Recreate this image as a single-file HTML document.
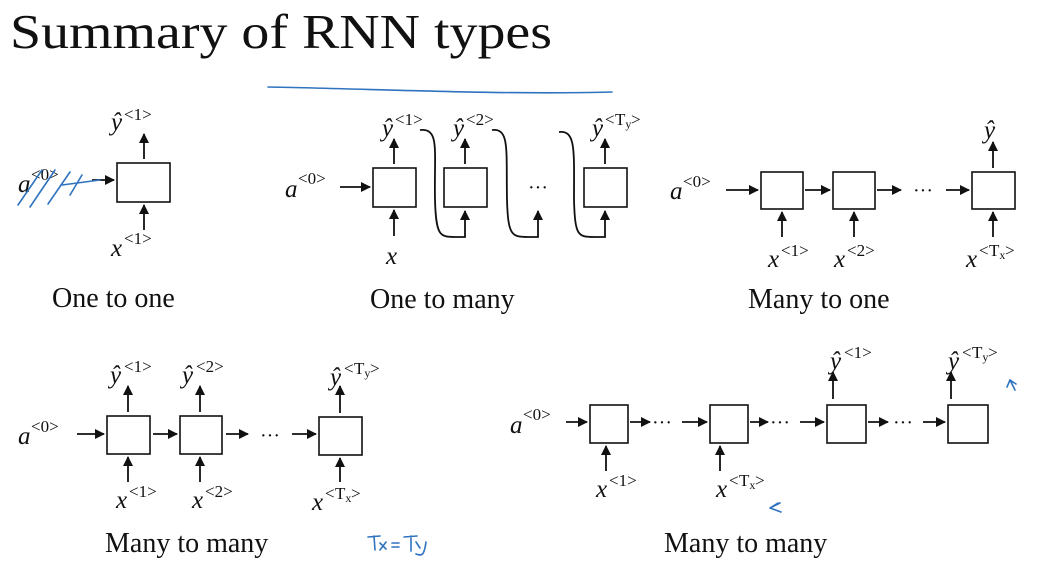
<!DOCTYPE html>
<html><head><meta charset="utf-8"><style>
html,body{margin:0;padding:0;background:#fff;}
svg{display:block;}
.m{font-family:"Liberation Serif",serif;font-style:italic;font-size:25px;fill:#111;}
.s{font-family:"Liberation Serif",serif;font-style:normal;font-size:17px;fill:#111;}
.c{font-family:"Liberation Serif",serif;font-size:28px;fill:#111;}
.b{fill:#fff;stroke:#111;stroke-width:1.6;}
.l{stroke:#111;stroke-width:1.8;fill:none;}
.h{stroke:#2f73c0;stroke-width:1.6;fill:none;stroke-linecap:round;}
</style></head><body>
<svg width="1043" height="566" viewBox="0 0 1043 566" xmlns="http://www.w3.org/2000/svg">
<defs><marker id="a" markerWidth="12" markerHeight="12" refX="9" refY="5" orient="auto" markerUnits="userSpaceOnUse"><path d="M0,0 L10,5 L0,10 z" fill="#111"/></marker></defs>
<text x="10" y="48" font-family="Liberation Serif,serif" font-size="49" fill="#111" textLength="542" lengthAdjust="spacingAndGlyphs">Summary of RNN types</text>
<path class="h" d="M268,87 C380,89 500,95 612,92"/>

<!-- One to one -->
<rect class="b" x="117" y="163" width="53" height="39"/>
<line class="l" x1="144" y1="159" x2="144" y2="134" marker-end="url(#a)"/>
<line class="l" x1="144" y1="230" x2="144" y2="205" marker-end="url(#a)"/>
<line class="l" x1="92" y1="180" x2="114" y2="180" marker-end="url(#a)"/>
<text class="m" x="18" y="192">a</text><text class="s" x="31" y="180">&lt;0&gt;</text>
<path class="h" d="M18,205 L42,170 M30,207 L55,170 M48,204 L70,172 M70,195 L82,175 M62,185 L100,180"/>
<text class="m" x="111" y="130">ŷ</text><text class="s" x="124" y="120">&lt;1&gt;</text>
<text class="m" x="111" y="256">x</text><text class="s" x="124" y="244">&lt;1&gt;</text>
<text class="c" x="52" y="307">One to one</text>

<!-- One to many -->
<rect class="b" x="373" y="168" width="43" height="39"/>
<rect class="b" x="444" y="168" width="43" height="39"/>
<rect class="b" x="584" y="168" width="43" height="39"/>
<line class="l" x1="340" y1="187" x2="370" y2="187" marker-end="url(#a)"/>
<text class="m" x="285" y="197">a</text><text class="s" x="298" y="184">&lt;0&gt;</text>
<line class="l" x1="394" y1="236" x2="394" y2="210" marker-end="url(#a)"/>
<text class="m" x="386" y="264">x</text>
<line class="l" x1="394" y1="164" x2="394" y2="139" marker-end="url(#a)"/>
<line class="l" x1="465" y1="164" x2="465" y2="139" marker-end="url(#a)"/>
<line class="l" x1="605" y1="164" x2="605" y2="139" marker-end="url(#a)"/>
<text class="m" x="382" y="136">ŷ</text><text class="s" x="395" y="125">&lt;1&gt;</text>
<text class="m" x="453" y="136">ŷ</text><text class="s" x="466" y="125">&lt;2&gt;</text>
<text class="m" x="592" y="136">ŷ</text><text class="s" x="605" y="125">&lt;</text><text class="s" x="615" y="125" font-style="italic">T<tspan font-size="12" dy="3">y</tspan></text><text class="s" x="631" y="125">&gt;</text>
<path class="l" stroke-width="1.2" d="M420,130 C440,128 434,150 435,200 C436,236 440,237 455,237 L465,237 L465,211" marker-end="url(#a)"/>
<path class="l" stroke-width="1.2" d="M492,130 C510,128 506,150 507,200 C508,236 512,237 528,237 L538,237 L538,211" marker-end="url(#a)"/>
<path class="l" stroke-width="1.2" d="M559,132 C576,130 574,150 574,200 C575,236 578,237 594,237 L605,237 L605,211" marker-end="url(#a)"/>
<text x="528" y="194" font-family="Liberation Serif,serif" font-size="20" fill="#111">···</text>
<text class="c" x="370" y="308">One to many</text>

<!-- Many to one -->
<rect class="b" x="761" y="172" width="42" height="37"/>
<rect class="b" x="833" y="172" width="42" height="37"/>
<rect class="b" x="972" y="172" width="43" height="37"/>
<text class="m" x="670" y="199">a</text><text class="s" x="683" y="187">&lt;0&gt;</text>
<line class="l" x1="726" y1="190" x2="758" y2="190" marker-end="url(#a)"/>
<line class="l" x1="805" y1="190" x2="830" y2="190" marker-end="url(#a)"/>
<line class="l" x1="877" y1="190" x2="901" y2="190" marker-end="url(#a)"/>
<text x="913" y="197" font-family="Liberation Serif,serif" font-size="20" fill="#111">···</text>
<line class="l" x1="946" y1="190" x2="969" y2="190" marker-end="url(#a)"/>
<line class="l" x1="782" y1="237" x2="782" y2="212" marker-end="url(#a)"/>
<line class="l" x1="854" y1="237" x2="854" y2="212" marker-end="url(#a)"/>
<line class="l" x1="993" y1="237" x2="993" y2="212" marker-end="url(#a)"/>
<line class="l" x1="993" y1="168" x2="993" y2="142" marker-end="url(#a)"/>
<text class="m" x="984" y="138">ŷ</text>
<text class="m" x="768" y="267">x</text><text class="s" x="781" y="256">&lt;1&gt;</text>
<text class="m" x="834" y="267">x</text><text class="s" x="847" y="256">&lt;2&gt;</text>
<text class="m" x="966" y="267">x</text><text class="s" x="979" y="256">&lt;</text><text class="s" x="989" y="256" font-style="italic">T<tspan font-size="12" dy="3">x</tspan></text><text class="s" x="1005" y="256">&gt;</text>
<text class="c" x="748" y="308">Many to one</text>

<!-- Many to many 1 -->
<rect class="b" x="107" y="416" width="43" height="38"/>
<rect class="b" x="180" y="416" width="42" height="38"/>
<rect class="b" x="319" y="417" width="43" height="38"/>
<text class="m" x="18" y="444">a</text><text class="s" x="31" y="432">&lt;0&gt;</text>
<line class="l" x1="77" y1="434" x2="104" y2="434" marker-end="url(#a)"/>
<line class="l" x1="153" y1="434" x2="177" y2="434" marker-end="url(#a)"/>
<line class="l" x1="226" y1="434" x2="248" y2="434" marker-end="url(#a)"/>
<text x="260" y="442" font-family="Liberation Serif,serif" font-size="20" fill="#111">···</text>
<line class="l" x1="292" y1="434" x2="316" y2="434" marker-end="url(#a)"/>
<line class="l" x1="128" y1="412" x2="128" y2="386" marker-end="url(#a)"/>
<line class="l" x1="200" y1="412" x2="200" y2="386" marker-end="url(#a)"/>
<line class="l" x1="340" y1="413" x2="340" y2="386" marker-end="url(#a)"/>
<text class="m" x="110" y="383">ŷ</text><text class="s" x="124" y="372">&lt;1&gt;</text>
<text class="m" x="182" y="383">ŷ</text><text class="s" x="196" y="372">&lt;2&gt;</text>
<text class="m" x="330" y="385">ŷ</text><text class="s" x="344" y="374">&lt;</text><text class="s" x="354" y="374" font-style="italic">T<tspan font-size="12" dy="3">y</tspan></text><text class="s" x="370" y="374">&gt;</text>
<line class="l" x1="128" y1="482" x2="128" y2="457" marker-end="url(#a)"/>
<line class="l" x1="200" y1="482" x2="200" y2="457" marker-end="url(#a)"/>
<line class="l" x1="340" y1="482" x2="340" y2="458" marker-end="url(#a)"/>
<text class="m" x="116" y="508">x</text><text class="s" x="129" y="497">&lt;1&gt;</text>
<text class="m" x="192" y="508">x</text><text class="s" x="205" y="497">&lt;2&gt;</text>
<text class="m" x="312" y="510">x</text><text class="s" x="325" y="499">&lt;</text><text class="s" x="335" y="499" font-style="italic">T<tspan font-size="12" dy="3">x</tspan></text><text class="s" x="351" y="499">&gt;</text>
<text class="c" x="105" y="552">Many to many</text>
<path class="h" d="M368,537 L380,536 M374,536 L375,550 M380,543 L386,549 M386,542 L380,550 M392,543 L399,543 M392,547 L399,547 M404,537 L417,536 M411,536 L411,551 M416,542 L420,548 M426,542 C424,556 422,556 416,554"/>

<!-- Many to many 2 -->
<rect class="b" x="590" y="405" width="38" height="38"/>
<rect class="b" x="710" y="405" width="38" height="38"/>
<rect class="b" x="827" y="405" width="39" height="38"/>
<rect class="b" x="948" y="405" width="40" height="38"/>
<text class="m" x="510" y="433">a</text><text class="s" x="523" y="420">&lt;0&gt;</text>
<line class="l" x1="566" y1="422" x2="587" y2="422" marker-end="url(#a)"/>
<line class="l" x1="630" y1="422" x2="650" y2="422" marker-end="url(#a)"/>
<text x="652" y="429" font-family="Liberation Serif,serif" font-size="20" fill="#111">···</text>
<line class="l" x1="682" y1="422" x2="707" y2="422" marker-end="url(#a)"/>
<line class="l" x1="750" y1="422" x2="768" y2="422" marker-end="url(#a)"/>
<text x="770" y="429" font-family="Liberation Serif,serif" font-size="20" fill="#111">···</text>
<line class="l" x1="800" y1="422" x2="824" y2="422" marker-end="url(#a)"/>
<line class="l" x1="868" y1="422" x2="888" y2="422" marker-end="url(#a)"/>
<text x="893" y="429" font-family="Liberation Serif,serif" font-size="20" fill="#111">···</text>
<line class="l" x1="923" y1="422" x2="945" y2="422" marker-end="url(#a)"/>
<line class="l" x1="606" y1="471" x2="606" y2="446" marker-end="url(#a)"/>
<line class="l" x1="720" y1="471" x2="720" y2="446" marker-end="url(#a)"/>
<line class="l" x1="833" y1="399" x2="833" y2="372" marker-end="url(#a)"/>
<line class="l" x1="951" y1="399" x2="951" y2="372" marker-end="url(#a)"/>
<text class="m" x="596" y="497">x</text><text class="s" x="609" y="486">&lt;1&gt;</text>
<text class="m" x="716" y="497">x</text><text class="s" x="729" y="486">&lt;</text><text class="s" x="739" y="486" font-style="italic">T<tspan font-size="12" dy="3">x</tspan></text><text class="s" x="755" y="486">&gt;</text>
<text class="m" x="830" y="369">ŷ</text><text class="s" x="844" y="358">&lt;1&gt;</text>
<text class="m" x="948" y="369">ŷ</text><text class="s" x="962" y="358">&lt;</text><text class="s" x="972" y="358" font-style="italic">T<tspan font-size="12" dy="3">y</tspan></text><text class="s" x="988" y="358">&gt;</text>
<path class="h" d="M770,508 L778,503 M770,508 L781,512 M772,507 L780,503"/>
<path class="h" d="M1010,380 L1015,390 M1010,380 L1007,387 M1010,380 L1016,384"/>
<text class="c" x="664" y="552">Many to many</text>
</svg>
</body></html>
